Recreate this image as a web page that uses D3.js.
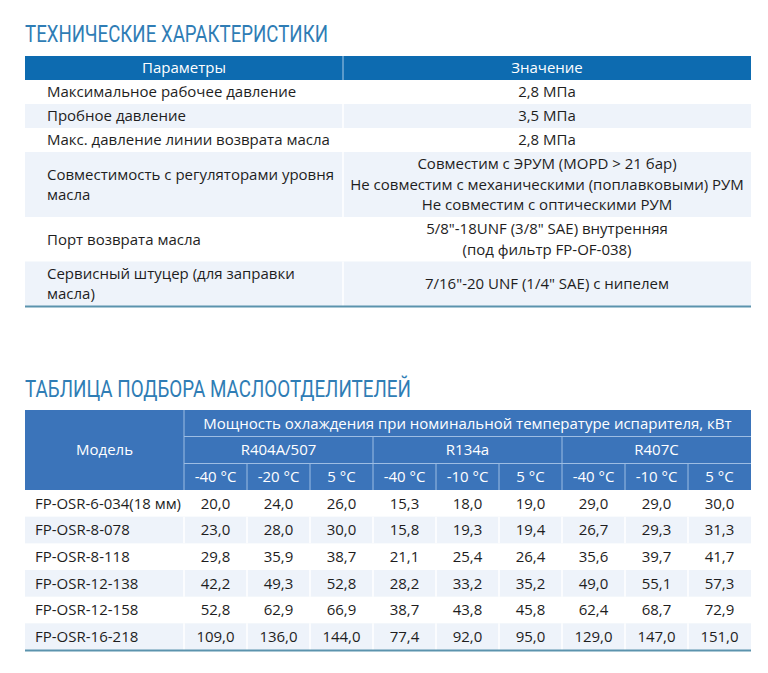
<!DOCTYPE html>
<html><head><meta charset="utf-8">
<script src="https://cdn.jsdelivr.net/npm/d3@7/dist/d3.min.js"></script>
<style>
html,body{margin:0;padding:0;background:#fff;}
svg{display:block;font-family:"Open Sans","Noto Sans",sans-serif;}
</style>
</head><body>
<svg id="c" width="768" height="673"></svg>
<script>
// ---------- DATA ----------
const title1 = "ТЕХНИЧЕСКИЕ ХАРАКТЕРИСТИКИ";
const title2 = "ТАБЛИЦА ПОДБОРА МАСЛООТДЕЛИТЕЛЕЙ";
const specHeaders = ["Параметры", "Значение"];
const specParams = [
  ["Максимальное рабочее давление"],
  ["Пробное давление"],
  ["Макс. давление линии возврата масла"],
  ["Совместимость с регуляторами уровня", "масла"],
  ["Порт возврата масла"],
  ["Сервисный штуцер (для заправки", "масла)"]
];
const specValues = [
  ["2,8 МПа"],
  ["3,5 МПа"],
  ["2,8 МПа"],
  ["Совместим с ЭРУМ (MOPD > 21 бар)", "Не совместим с механическими (поплавковыми) РУМ", "Не совместим с оптическими РУМ"],
  ["5/8\"-18UNF  (3/8\"  SAE) внутренняя", "(под фильтр FP-OF-038)"],
  ["7/16\"-20 UNF (1/4\" SAE) с нипелем"]
];
const selHeaderModel = "Модель";
const selHeaderTop = "Мощность охлаждения при номинальной температуре испарителя, кВт";
const refrigerants = ["R404A/507", "R134a", "R407C"];
const temps = [["-40 °C", "-20 °C", "5 °C"], ["-40 °C", "-10 °C", "5 °C"], ["-40 °C", "-10 °C", "5 °C"]];
const models = ["FP-OSR-6-034(18 мм)", "FP-OSR-8-078", "FP-OSR-8-118", "FP-OSR-12-138", "FP-OSR-12-158", "FP-OSR-16-218"];
const r404 = [[20.0,24.0,26.0],[23.0,28.0,30.0],[29.8,35.9,38.7],[42.2,49.3,52.8],[52.8,62.9,66.9],[109.0,136.0,144.0]];
const r134 = [[15.3,18.0,19.0],[15.8,19.3,19.4],[21.1,25.4,26.4],[28.2,33.2,35.2],[38.7,43.8,45.8],[77.4,92.0,95.0]];
const r407 = [[29.0,29.0,30.0],[26.7,29.3,31.3],[35.6,39.7,41.7],[49.0,55.1,57.3],[62.4,68.7,72.9],[129.0,147.0,151.0]];

// ---------- STYLE ----------
const C = {title:"#2f7db5", head1:"#0d6bb0", head2:"#3b74ba", stripe:"#eef3fa", text:"#1e1e1e", rule:"#5b93ad", div2:"#9dbde3"};
const FS = 15;
const svg = d3.select("#c");
const fmt = v => d3.format(".1f")(v).replace(".", ",");

function title(txt, x, y, w){
  svg.append("text").attr("x", x).attr("y", y).attr("fill", C.title)
    .attr("font-family", "Roboto, 'DejaVu Sans Condensed', sans-serif").attr("font-size", 24)
    .attr("textLength", w).attr("lengthAdjust", "spacingAndGlyphs").text(txt);
}
function lines(g, arr, x, cy, anchor, lh){
  const t = g.append("text").attr("x", x).attr("text-anchor", anchor)
    .attr("font-size", FS).attr("fill", C.text);
  arr.forEach((s, i) => {
    t.append("tspan").attr("x", x).attr("y", cy + (i - (arr.length - 1) / 2) * lh).attr("dy", "0.35em").text(s);
  });
  return t;
}

// ---------- TABLE 1 ----------
title(title1, 25, 42, 303);
const L = 25, R = 751, mid1 = 343;
const t1Top = 56, head1H = 24, baseH = 24, extraH = 20.5;
const rowH = specParams.map((p, i) => baseH + (Math.max(p.length, specValues[i].length) - 1) * extraH);
const rowY = [];
rowH.reduce((acc, h, i) => { rowY[i] = acc; return acc + h; }, t1Top + head1H);
const t1Bottom = rowY[rowY.length - 1] + rowH[rowH.length - 1];

const x1 = d3.scaleOrdinal().domain([0, 1]).range([[L, mid1], [mid1, R]]);
const g1 = svg.append("g");
g1.append("rect").attr("x", L).attr("y", t1Top).attr("width", R - L).attr("height", head1H).attr("fill", C.head1);
g1.append("line").attr("x1", mid1).attr("x2", mid1).attr("y1", t1Top).attr("y2", t1Top + head1H).attr("stroke", "#a9cbe6").attr("stroke-width", 1);
specHeaders.forEach((h, i) => {
  const [a, b] = x1(i);
  g1.append("text").attr("x", (a + b) / 2).attr("y", t1Top + head1H / 2).attr("dy", "0.35em")
    .attr("text-anchor", "middle").attr("fill", "#fff").attr("font-size", FS).text(h);
});
specParams.forEach((p, i) => {
  if (i % 2 === 1) {
    g1.append("rect").attr("x", L).attr("y", rowY[i]).attr("width", R - L).attr("height", rowH[i]).attr("fill", C.stripe);
    g1.append("line").attr("x1", mid1).attr("x2", mid1).attr("y1", rowY[i]).attr("y2", rowY[i] + rowH[i]).attr("stroke", "#fff").attr("stroke-width", 1.5);
  }
  const cy = rowY[i] + rowH[i] / 2;
  lines(g1, p, 47, cy, "start", 20.5);
  const [a, b] = x1(1);
  lines(g1, specValues[i], (a + b) / 2, cy, "middle", 20.5);
});
g1.append("line").attr("x1", L).attr("x2", R).attr("y1", t1Bottom + 0.5).attr("y2", t1Bottom + 0.5).attr("stroke", C.rule).attr("stroke-width", 2);

// ---------- TABLE 2 ----------
title(title2, 25, 397, 386);
const t2Top = 410, hr = [26.5, 27, 26.5], modelW = 159;
const dataTop = t2Top + hr[0] + hr[1] + hr[2];
const t2Bottom = 650;
const cols = refrigerants.flatMap((r, ri) => temps[ri].map((t, ti) => ri + "-" + ti));
const xc = d3.scaleBand().domain(cols).range([L + modelW, R]);
const y2 = d3.scaleBand().domain(models).range([dataTop, t2Bottom]);
const g2 = svg.append("g");
g2.append("rect").attr("x", L).attr("y", t2Top).attr("width", R - L).attr("height", dataTop - t2Top).attr("fill", C.head2);
const divs = g2.append("g").attr("stroke", C.div2).attr("stroke-width", 1);
divs.append("line").attr("x1", L + modelW).attr("x2", L + modelW).attr("y1", t2Top).attr("y2", dataTop);
divs.append("line").attr("x1", L + modelW).attr("x2", R).attr("y1", t2Top + hr[0]).attr("y2", t2Top + hr[0]);
divs.append("line").attr("x1", L + modelW).attr("x2", R).attr("y1", t2Top + hr[0] + hr[1]).attr("y2", t2Top + hr[0] + hr[1]);
g2.append("text").attr("x", L + modelW / 2).attr("y", (t2Top + dataTop) / 2).attr("dy", "0.35em")
  .attr("text-anchor", "middle").attr("fill", "#fff").attr("font-size", FS).text(selHeaderModel);
g2.append("text").attr("x", (L + modelW + R) / 2).attr("y", t2Top + hr[0] / 2).attr("dy", "0.35em")
  .attr("text-anchor", "middle").attr("fill", "#fff").attr("font-size", FS).text(selHeaderTop);
refrigerants.forEach((r, ri) => {
  const x0 = xc(ri + "-0"), x3 = xc(ri + "-2") + xc.bandwidth();
  if (ri > 0) divs.append("line").attr("x1", x0).attr("x2", x0).attr("y1", t2Top + hr[0]).attr("y2", dataTop);
  g2.append("text").attr("x", (x0 + x3) / 2).attr("y", t2Top + hr[0] + hr[1] / 2).attr("dy", "0.35em")
    .attr("text-anchor", "middle").attr("fill", "#fff").attr("font-size", FS).text(r);
  temps[ri].forEach((t, ti) => {
    const xx = xc(ri + "-" + ti);
    if (ti > 0) divs.append("line").attr("x1", xx).attr("x2", xx).attr("y1", t2Top + hr[0] + hr[1]).attr("y2", dataTop);
    g2.append("text").attr("x", xx + xc.bandwidth() / 2).attr("y", t2Top + hr[0] + hr[1] + hr[2] / 2).attr("dy", "0.35em")
      .attr("text-anchor", "middle").attr("fill", "#fff").attr("font-size", FS).text(t);
  });
});
const series = [r404, r134, r407];
models.forEach((m, i) => {
  const y = y2(m), h = y2.bandwidth();
  if (i % 2 === 1) {
    g2.append("rect").attr("x", L).attr("y", y).attr("width", R - L).attr("height", h).attr("fill", C.stripe);
    cols.forEach(k => g2.append("line").attr("x1", xc(k)).attr("x2", xc(k)).attr("y1", y).attr("y2", y + h).attr("stroke", "#fff").attr("stroke-width", 1.5));
  }
  const mt = g2.append("text").attr("x", 35).attr("y", y + h / 2).attr("dy", "0.35em").attr("fill", C.text).attr("font-size", FS).text(m);
  const maxW = modelW - 13;
  if (mt.node().getComputedTextLength() > maxW) mt.attr("textLength", maxW).attr("lengthAdjust", "spacingAndGlyphs");
  series.forEach((s, ri) => s[i].forEach((v, ti) => {
    const k = ri + "-" + ti;
    g2.append("text").attr("x", xc(k) + xc.bandwidth() / 2).attr("y", y + h / 2).attr("dy", "0.35em")
      .attr("text-anchor", "middle").attr("fill", C.text).attr("font-size", FS).text(fmt(v));
  }));
});
g2.append("line").attr("x1", L).attr("x2", R).attr("y1", t2Bottom + 0.5).attr("y2", t2Bottom + 0.5).attr("stroke", C.rule).attr("stroke-width", 2);
</script>
</body></html>
